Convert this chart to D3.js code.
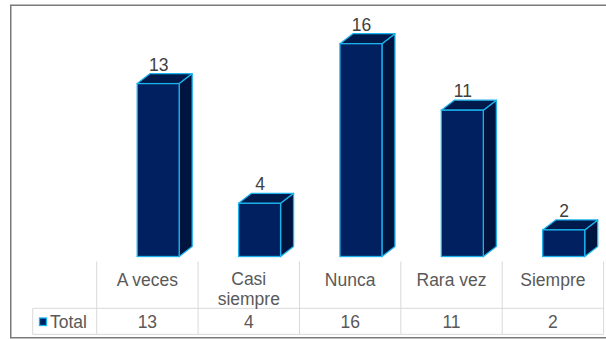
<!DOCTYPE html>
<html>
<head>
<meta charset="utf-8">
<script src="https://cdn.jsdelivr.net/npm/d3@7"></script>
<style>
  html, body { margin: 0; padding: 0; background: #fff; }
  svg { display: block; font-family: "Liberation Sans", Arial, sans-serif; }
</style>
</head>
<body>
<svg id="chart" width="606" height="339"></svg>
<script>
// Responses per frequency category
const categories = ["A veces", "Casi siempre", "Nunca", "Rara vez", "Siempre"];
const totals = [13, 4, 16, 11, 2];
const seriesName = "Total";
// Category labels as they wrap in the data table
const categoryLines = [["A veces"], ["Casi", "siempre"], ["Nunca"], ["Rara vez"], ["Siempre"]];

const svg = d3.select("#chart");

// Outer frame (right side runs past the visible area)
svg.append("rect")
  .attr("x", 10.75).attr("y", 5.25)
  .attr("width", 700).attr("height", 332.5)
  .attr("fill", "#fff")
  .attr("stroke", "#7a7a7a").attr("stroke-width", 1.5);

// Table columns double as the category axis
const x = d3.scaleBand().domain(categories).range([96.7, 603.6]).padding(0);
const y = d3.scaleLinear().domain([0, 16]).range([256.5, 43.7]);

const frontW = 42, shift = 10.8, dx = 13, dy = 10;
const frontFill = "#00205f", sideFill = "#001440", topFill = "#001a4c", edge = "#1cb3ec";
const fs = 17.5;

const bars = svg.append("g").selectAll("g.bar")
  .data(categories.map((c, i) => ({ c, v: totals[i] })))
  .join("g").attr("class", "bar");

bars.each(function (d) {
  const g = d3.select(this);
  const x0 = x(d.c) + x.bandwidth() / 2 + shift - frontW / 2;
  const x1 = x0 + frontW;
  const yt = y(d.v), yb = y(0);
  // side face
  g.append("path")
    .attr("d", `M${x1},${yt}L${x1 + dx},${yt - dy}L${x1 + dx},${yb - dy}L${x1},${yb}Z`)
    .attr("fill", sideFill).attr("stroke", edge).attr("stroke-width", 1.3)
    .attr("stroke-linejoin", "round");
  // top face
  g.append("path")
    .attr("d", `M${x0},${yt}L${x0 + dx},${yt - dy}L${x1 + dx},${yt - dy}L${x1},${yt}Z`)
    .attr("fill", topFill).attr("stroke", edge).attr("stroke-width", 1.3)
    .attr("stroke-linejoin", "round");
  // front face
  g.append("rect")
    .attr("x", x0).attr("y", yt)
    .attr("width", frontW).attr("height", yb - yt)
    .attr("fill", frontFill).attr("stroke", edge).attr("stroke-width", 1.3);
  // value label
  g.append("text")
    .attr("x", x0 + frontW / 2 + 0.5).attr("y", yt - dy - 3)
    .attr("text-anchor", "middle")
    .attr("font-size", fs).attr("fill", "#404040")
    .text(d.v);
});

// Data table under the bars
const grid = "#d9d9d9";
const table = svg.append("g");
const colEdges = categories.map(c => x(c)).concat([x.range()[1]]);
const headerLeft = 32.7, rowTop = 308.3, rowBottom = 334.3, colTop = 261.5;

colEdges.forEach(xe => {
  table.append("line")
    .attr("x1", xe).attr("x2", xe).attr("y1", colTop).attr("y2", rowBottom)
    .attr("stroke", grid).attr("stroke-width", 1);
});
table.append("line").attr("x1", headerLeft).attr("x2", headerLeft)
  .attr("y1", rowTop).attr("y2", rowBottom).attr("stroke", grid);
[rowTop, rowBottom].forEach(yy => {
  table.append("line").attr("x1", headerLeft).attr("x2", x.range()[1])
    .attr("y1", yy).attr("y2", yy).attr("stroke", grid);
});

// category names (wrapped names sit a little higher)
categories.forEach((c, i) => {
  const lines = categoryLines[i];
  const cx = x(c) + x.bandwidth() / 2;
  const t = table.append("text")
    .attr("x", cx).attr("y", lines.length > 1 ? 285 : 286)
    .attr("text-anchor", "middle")
    .attr("font-size", fs).attr("fill", "#595959");
  lines.forEach((ln, k) => {
    t.append("tspan").attr("x", cx).attr("dy", k === 0 ? 0 : 20).text(ln);
  });
});

// values row
categories.forEach((c, i) => {
  table.append("text")
    .attr("x", x(c) + x.bandwidth() / 2).attr("y", 328)
    .attr("text-anchor", "middle")
    .attr("font-size", fs).attr("fill", "#595959")
    .text(totals[i]);
});

// legend key and series name
table.append("rect")
  .attr("x", 39.5).attr("y", 318).attr("width", 7).attr("height", 7.5)
  .attr("fill", frontFill).attr("stroke", edge).attr("stroke-width", 1.3);
table.append("text")
  .attr("x", 50).attr("y", 328)
  .attr("font-size", fs).attr("fill", "#595959")
  .text(seriesName);
</script>
</body>
</html>
